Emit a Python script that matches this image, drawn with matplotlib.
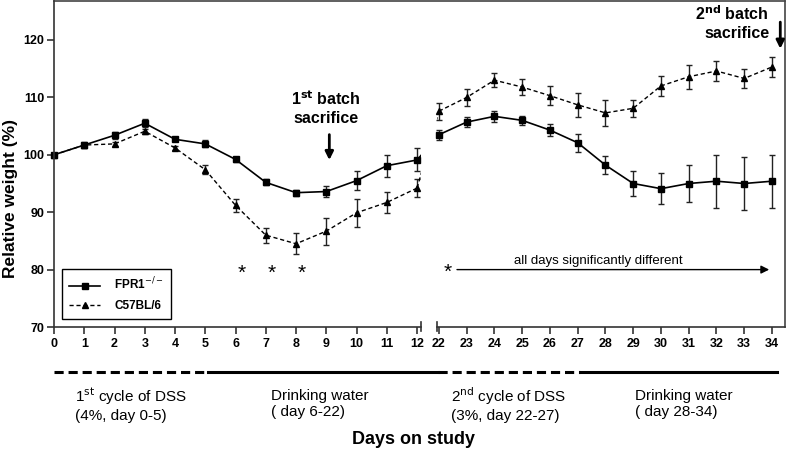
import matplotlib
matplotlib.use('Agg')
import matplotlib.pyplot as plt
from matplotlib.lines import Line2D

plt.rcParams['font.family'] = ['Liberation Sans', 'DejaVu Sans']

# days split in two panels (axis is broken between 12 and 22)
days_a = [0, 1, 2, 3, 4, 5, 6, 7, 8, 9, 10, 11, 12]
days_b = [22, 23, 24, 25, 26, 27, 28, 29, 30, 31, 32, 33, 34]

# FPR1 -/- (solid, squares)
fpr_a = [100, 101.7, 103.4, 105.5, 102.7, 101.9, 99.2, 95.2, 93.4, 93.6, 95.5, 98.1, 99.1]
fpr_a_err = [0, 0.5, 0.6, 0.7, 0.3, 0.6, 0.4, 0.5, 0.5, 0.9, 1.7, 1.9, 2.0]
fpr_b = [103.5, 105.7, 106.7, 106.0, 104.3, 102.1, 98.2, 95.0, 94.1, 95.0, 95.4, 95.0, 95.4]
fpr_b_err = [0.9, 0.8, 1.0, 0.8, 1.1, 1.6, 1.6, 2.2, 2.7, 3.3, 4.6, 4.7, 4.6]

# C57BL/6 (dashed, triangles)
wt_a = [100, 101.7, 101.9, 104.1, 101.2, 97.4, 91.2, 86.0, 84.5, 86.7, 89.9, 91.7, 94.2]
wt_a_err = [0, 0.3, 0.3, 0.4, 0.3, 0.8, 1.1, 1.3, 1.8, 2.35, 2.4, 1.8, 1.5]
wt_b = [107.6, 110.0, 113.0, 111.8, 110.3, 108.7, 107.3, 108.1, 112.0, 113.6, 114.6, 113.3, 115.3]
wt_b_err = [1.5, 1.5, 1.2, 1.4, 1.7, 2.1, 2.2, 1.5, 1.7, 2.1, 1.8, 1.7, 1.7]

sig_days = [6.2, 7.2, 8.2]

W, H = 786, 455
fig = plt.figure(figsize=(W / 100, H / 100), dpi=100)

def fx(px):
    return px / W

def fy(py):
    return 1 - py / H

left, mid1, mid2, right = 54, 421, 437, 785
top, bottom = 1, 327
ylim = (70, 70 + (bottom - top) / 5.74)

axf = fig.add_axes([fx(left), fy(bottom), fx(right - left), fy(top) - fy(bottom)], zorder=0)
axf.set_facecolor('none')
axf.set_xticks([])
axf.set_yticks([])
for s in ['left', 'bottom']:
    axf.spines[s].set_visible(False)
for s in ['top', 'right']:
    axf.spines[s].set_color('#444444')
    axf.spines[s].set_linewidth(1.2)

ax1 = fig.add_axes([fx(left), fy(bottom), fx(mid1 - left), fy(top) - fy(bottom)], zorder=2)
ax2 = fig.add_axes([fx(mid2), fy(bottom), fx(right - mid2), fy(top) - fy(bottom)], zorder=2)
ax1.set_xlim(0, 12.13)
ax2.set_xlim(21.93, 34.47)

for ax in (ax1, ax2):
    ax.set_facecolor('none')
    ax.set_ylim(*ylim)
    for s in ['top', 'right', 'left']:
        ax.spines[s].set_visible(False)
    ax.spines['bottom'].set_linewidth(1.2)
    ax.spines['bottom'].set_color('#333333')
    ax.tick_params(axis='x', direction='out', length=5, width=1.2, color='#333333', pad=3)

ax1.spines['left'].set_visible(True)
ax1.spines['left'].set_linewidth(1.2)
ax1.spines['left'].set_color('#333333')
ax1.set_yticks([70, 80, 90, 100, 110, 120])
ax1.tick_params(axis='y', direction='out', length=5, width=1.2, color='#333333', pad=2)
ax2.set_yticks([])
ax1.set_xticks(days_a)
ax2.set_xticks(days_b)
for ax in (ax1, ax2):
    for lab in ax.get_xticklabels() + ax.get_yticklabels():
        lab.set_fontweight('bold')
        lab.set_fontsize(9)

# break marks on the x axis
for ax, xpos in ((ax1, 1.0), (ax2, 0.0)):
    ax.plot([xpos, xpos], [-0.012, 0.015], transform=ax.transAxes, color='#333333',
            lw=1.2, clip_on=False)

eb = dict(color='black', ecolor='#222222', capsize=2.5, elinewidth=1, capthick=1, clip_on=False)
for ax, d, f, fe, w, we in ((ax1, days_a, fpr_a, fpr_a_err, wt_a, wt_a_err),
                            (ax2, days_b, fpr_b, fpr_b_err, wt_b, wt_b_err)):
    ax.errorbar(d, w, yerr=we, fmt='^', ms=5, linestyle=(0, (3, 2)), lw=1, **eb)
    ax.errorbar(d, f, yerr=fe, fmt='s', ms=4, linestyle='-', lw=1.2, **eb)

# stubs of the lines crossing the axis break
gap1 = (439 - 417) / 30.25
gap2 = (439 - 417) / 27.75
ax1.plot([12, 12 + gap1], [fpr_a[-1], fpr_b[0]], color='black', lw=1.2)
ax1.plot([12, 12 + gap1], [wt_a[-1], wt_b[0]], color='black', lw=1, linestyle=(0, (3, 2)))
ax2.plot([22 - gap2, 22], [fpr_a[-1], fpr_b[0]], color='black', lw=1.2)
ax2.plot([22 - gap2, 22], [wt_a[-1], wt_b[0]], color='black', lw=1, linestyle=(0, (3, 2)))

# significance
for d in sig_days:
    ax1.text(d, 79.4, '*', ha='center', va='center', fontsize=15)
ax2.text(22.3, 79.5, '*', ha='center', va='center', fontsize=15)
ax2.annotate('', xy=(34.0, 80.0), xytext=(22.55, 80.0),
             arrowprops=dict(arrowstyle='-|>', color='black', lw=1, mutation_scale=12))
ax2.text(27.75, 80.4, 'all days significantly different', ha='center', va='bottom', fontsize=9.5)

# sacrifice annotations
ax1.text(9.0, 108.2, '1$^{\\mathbf{st}}$ batch\nsacrifice', ha='center', va='center',
         fontsize=11.5, fontweight='bold', linespacing=1.25)
ax1.annotate('', xy=(9.1, 98.6), xytext=(9.1, 104.0),
             arrowprops=dict(arrowstyle='-|>', color='black', lw=2, mutation_scale=12))
ax2.text(33.9, 123.0, '2$^{\\mathbf{nd}}$ batch\nsacrifice', ha='right', va='center',
         fontsize=11.5, fontweight='bold', linespacing=1.25)
ax2.annotate('', xy=(34.3, 118.0), xytext=(34.3, 123.6),
             arrowprops=dict(arrowstyle='-|>', color='black', lw=2, mutation_scale=12))

fig.text(fx(11), fy(199), 'Relative weight (%)', rotation=90, ha='center', va='center',
         fontsize=12.5, fontweight='bold')

handles = [Line2D([], [], color='black', lw=1.2, marker='s', ms=4),
           Line2D([], [], color='black', lw=1, linestyle=(0, (3, 2)), marker='^', ms=5)]
leg = ax1.legend(handles, ['FPR1$^{-/-}$', 'C57BL/6'], loc='lower left',
                 bbox_to_anchor=(0.022, 0.025), borderaxespad=0, fancybox=False,
                 edgecolor='black', framealpha=1, fontsize=8.5, handlelength=2.6,
                 handletextpad=1.2, borderpad=0.6, labelspacing=0.6)
leg.get_frame().set_linewidth(1)
for t in leg.get_texts():
    t.set_fontweight('bold')

# treatment periods below the axis
ly = fy(372)
fig.add_artist(Line2D([fx(54), fx(208)], [ly, ly], color='black', lw=2.2, linestyle=(0, (3, 1.6))))
fig.add_artist(Line2D([fx(208), fx(438)], [ly, ly], color='black', lw=2.2))
fig.add_artist(Line2D([fx(438), fx(580)], [ly, ly], color='black', lw=2.2, linestyle=(0, (3, 1.6))))
fig.add_artist(Line2D([fx(580), fx(777)], [ly, ly], color='black', lw=2.2))

periods = [(75, '1$^{\\mathrm{st}}$ cycle of DSS\n(4%, day 0-5)'),
           (271, 'Drinking water\n( day 6-22)'),
           (451, '2$^{\\mathrm{nd}}$ cycle of DSS\n(3%, day 22-27)'),
           (635, 'Drinking water\n( day 28-34)')]
for px, txt in periods:
    fig.text(fx(px), fy(404), txt, ha='left', va='center', fontsize=11, linespacing=1.15)

fig.text(fx(414), fy(440), 'Days on study', ha='center', va='center', fontsize=13,
         fontweight='bold')

fig.savefig('out.png', dpi=100)
